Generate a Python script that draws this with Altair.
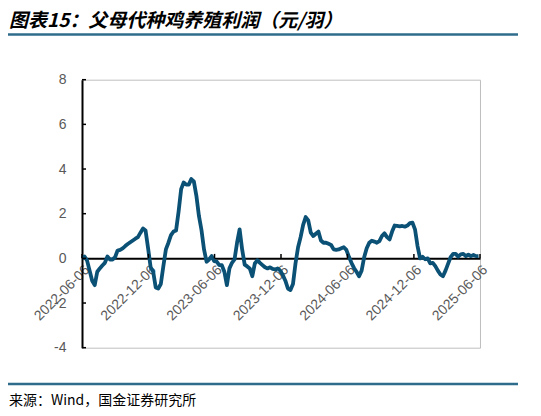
import altair as alt
import pandas as pd

title_text = "图表15：父母代种鸡养殖利润（元/羽）"
source_text = "来源：Wind，国金证券研究所"

# weekly parent-stock broiler profit (yuan per bird), starting 2022-06-06
start_date = "2022-06-06"
profit = [
    0.0, 0.08, -0.1, -0.55, -1.0, -1.2, -0.6, -0.45, -0.32, -0.2,
    0.08, -0.05, -0.05, 0.05, 0.35, 0.38, 0.45, 0.55, 0.64, 0.72,
    0.8, 0.88, 0.95, 1.15, 1.34, 1.25, 0.45, -0.4, -0.6, -1.3,
    -1.35, -1.15, -0.35, 0.4, 0.7, 1.04, 1.2, 1.25, 2.1, 3.1,
    3.4, 3.3, 3.3, 3.55, 3.45, 2.8, 1.9, 1.27, 0.4, -0.15,
    -0.05, 0.1, -0.12, -0.15, -0.3, -0.3, -0.6, -1.2, -0.45, -0.2,
    -0.05, 0.7, 1.3, 0.4, -0.28, -0.36, -0.45, -0.8, -0.23, -0.08,
    -0.2, -0.3, -0.4, -0.45, -0.4, -0.47, -0.5, -0.45, -0.55, -0.75,
    -1.0, -1.35, -1.42, -1.15, -0.22, 0.5, 0.95, 1.5, 1.85, 1.7,
    1.15, 1.0, 1.1, 1.2, 0.8, 0.7, 0.7, 0.65, 0.6, 0.4,
    0.38, 0.4, 0.45, 0.5, 0.38, 0.07, -0.2, -0.43, -0.6, -0.8,
    -0.55, 0.05, 0.45, 0.7, 0.79, 0.75, 0.7, 0.77, 1.0, 1.12,
    0.95, 0.85, 1.2, 1.47, 1.45, 1.43, 1.45, 1.42, 1.47, 1.58,
    1.6, 1.3, 0.55, 0.0, 0.07, -0.04, 0.0, -0.22, -0.2, -0.35,
    -0.55, -0.72, -0.8, -0.55, -0.25, 0.05, 0.2, 0.2, 0.08, 0.18,
    0.2, 0.1, 0.17, 0.1, 0.15, 0.1, 0.1,
]
tick_dates = ["2022-06-06", "2022-12-06", "2023-06-06", "2023-12-06",
              "2024-06-06", "2024-12-06", "2025-06-06"]
y_ticks = [-4, -2, 0, 2, 4, 6, 8]

df = pd.DataFrame({
    "date": pd.date_range(start_date, periods=len(profit), freq="7D"),
    "profit": profit,
})
ticks_df = pd.DataFrame({"date": pd.to_datetime(tick_dates)})
yticks_df = pd.DataFrame({"v": y_ticks})


def dt(s):
    d = pd.Timestamp(s)
    return alt.DateTime(year=d.year, month=d.month, date=d.day)


W, H = 398, 268
x_scale = alt.Scale(domain=[dt(tick_dates[0]), dt(tick_dates[-1])], nice=False)
y_scale = alt.Scale(domain=[-4, 8], nice=False)

line = alt.Chart(df).mark_line(
    color="#0b5075", strokeWidth=3.8, strokeJoin="round"
).encode(
    x=alt.X("date:T", scale=x_scale, title=None,
            axis=alt.Axis(values=[dt(d) for d in tick_dates], format="%Y-%m-%d",
                          labelAngle=-45, offset=-H * 4 / 12, domainColor="black",
                          domainWidth=2, ticks=False, grid=False, labelPadding=4)),
    y=alt.Y("profit:Q", scale=y_scale, title=None,
            axis=alt.Axis(values=y_ticks, labelExpr="'' + datum.value",
                          domainColor="black", domainWidth=2, ticks=False,
                          grid=False, labelPadding=16)),
)

xticks = alt.Chart(ticks_df).mark_rule(color="black", strokeWidth=1.5).encode(
    x="date:T", y=alt.datum(0), y2=alt.datum(0.2)
)
yticks = alt.Chart(yticks_df).mark_rule(color="black", strokeWidth=1.5).encode(
    y="v:Q", x=alt.value(0), x2=alt.value(4)
)

title = alt.Chart(pd.DataFrame({"t": [title_text]})).mark_text(
    align="left", baseline="middle", font="Noto Sans CJK SC", fontSize=19,
    fontWeight="bold", fontStyle="italic", color="black"
).encode(text="t:N", x=alt.value(-73), y=alt.value(-58.7))

header = alt.Chart(pd.DataFrame({"k": [0]})).mark_rule(
    color="#2f6c8c", strokeWidth=2.5
).encode(x=alt.value(-74), x2=alt.value(436), y=alt.value(-45.2))

footer = alt.Chart(pd.DataFrame({"k": [0]})).mark_rule(
    color="#2f6c8c", strokeWidth=2.5
).encode(x=alt.value(-74), x2=alt.value(436), y=alt.value(304.3))

source = alt.Chart(pd.DataFrame({"t": [source_text]})).mark_text(
    align="left", baseline="middle", font="Noto Sans CJK SC", fontSize=14,
    color="black"
).encode(text="t:N", x=alt.value(-73), y=alt.value(321.3))

chart = alt.layer(line, xticks, yticks, title, header, footer, source).properties(
    width=W,
    height=H,
    autosize=alt.AutoSizeParams(type="none"),
    padding={"left": 74, "top": 71.7, "right": 40, "bottom": 60},
    background="white",
).configure_view(
    stroke="#bfbfbf", strokeWidth=1
).configure_axis(
    labelFont="Liberation Sans", labelFontSize=14, labelColor="#595959"
)

chart.save("out.html", embed_options={"renderer": "svg", "actions": False})
